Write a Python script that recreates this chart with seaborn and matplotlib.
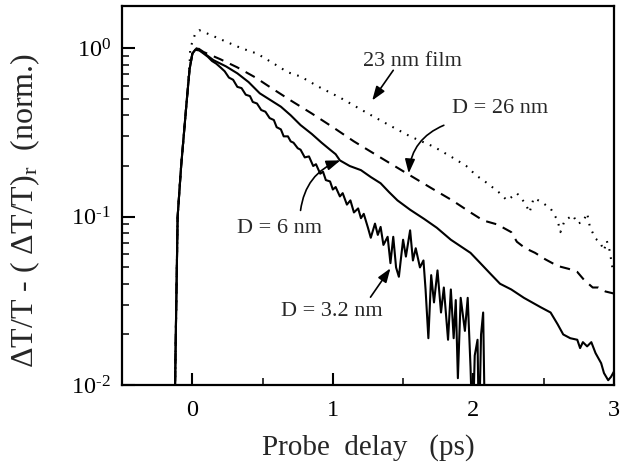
import numpy as np
import pandas as pd
import matplotlib
matplotlib.use("Agg")
import matplotlib.pyplot as plt
from matplotlib.ticker import MultipleLocator, LogLocator, NullFormatter, FuncFormatter
import seaborn as sns

# ---------------- data ----------------
film_x = [-0.13, -0.123, -0.118, -0.105, -0.08, -0.04, -0.02, -0.015, 0.02, 0.05, 0.08, 0.15, 0.25,
          0.35, 0.46, 0.57, 0.68, 0.77, 0.90, 1.05, 1.25, 1.40, 1.55, 1.72, 1.85, 1.95, 2.02,
          2.10, 2.18, 2.24, 2.31, 2.37, 2.40, 2.43, 2.48, 2.55, 2.60, 2.62, 2.65, 2.71, 2.74,
          2.78, 2.81, 2.83, 2.87, 2.90, 2.93, 2.95, 2.97, 2.99, 3.00]
film_y = [0.004, 0.01, 0.02, 0.1, 0.2, 0.49, 0.8, 1.0, 1.22, 1.28, 1.25, 1.18, 1.085,
          1.0, 0.93, 0.82, 0.72, 0.68, 0.59, 0.51, 0.41, 0.35, 0.30, 0.26, 0.225, 0.20, 0.176,
          0.158, 0.14, 0.125, 0.138, 0.12, 0.106, 0.129, 0.123, 0.112, 0.095, 0.081, 0.095, 0.102, 0.091,
          0.093, 0.105, 0.087, 0.074, 0.071, 0.063, 0.072, 0.063, 0.05, 0.047]

d26_x = [-0.13, -0.123, -0.118, -0.105, -0.08, -0.04, -0.02, 0.0, 0.04, 0.08, 0.20, 0.32, 0.45,
         0.55, 0.70, 0.85, 1.00, 1.15, 1.30, 1.53, 1.70, 1.85, 1.98, 2.07, 2.17, 2.27, 2.31,
         2.37, 2.44, 2.51, 2.60, 2.68, 2.74, 2.79, 2.85, 2.89, 2.94, 3.00]
d26_y = [0.004, 0.01, 0.02, 0.1, 0.2, 0.49, 0.75, 0.93, 1.0, 0.95, 0.86, 0.77, 0.67,
         0.59, 0.49, 0.41, 0.34, 0.28, 0.235, 0.18, 0.148, 0.125, 0.106, 0.095, 0.090, 0.081, 0.071,
         0.065, 0.061, 0.056, 0.051, 0.049, 0.047, 0.042, 0.038, 0.038, 0.036, 0.035]

d6_x = [-0.13, -0.123, -0.118, -0.105, -0.08, -0.04, -0.02, 0.0, 0.03, 0.08, 0.15, 0.24, 0.32,
        0.40, 0.48, 0.56, 0.63, 0.70, 0.77, 0.85, 0.92, 0.98, 1.02, 1.05, 1.12, 1.20, 1.27,
        1.34, 1.40, 1.46, 1.55, 1.65, 1.74, 1.84, 1.98, 2.05, 2.12, 2.19, 2.27, 2.36, 2.48,
        2.55, 2.60, 2.64, 2.69, 2.74, 2.76, 2.78, 2.81, 2.84, 2.87, 2.91, 2.93, 2.96, 2.98, 3.00]
d6_y = [0.004, 0.01, 0.02, 0.1, 0.2, 0.49, 0.75, 0.93, 1.0, 0.94, 0.85, 0.78, 0.71,
        0.63, 0.54, 0.49, 0.45, 0.40, 0.35, 0.31, 0.275, 0.25, 0.235, 0.216, 0.20, 0.189, 0.172,
        0.158, 0.14, 0.125, 0.11, 0.097, 0.086, 0.073, 0.061, 0.053, 0.046, 0.040, 0.037, 0.033, 0.029,
        0.027, 0.023, 0.020, 0.019, 0.0186, 0.0166, 0.018, 0.017, 0.018, 0.0155, 0.0135, 0.0118, 0.0107, 0.0112, 0.012]

d32_x = [-0.13, -0.123, -0.118, -0.105, -0.08, -0.04, -0.02, 0.0, 0.02, 0.05, 0.08, 0.11, 0.14,
         0.17, 0.20, 0.23, 0.26, 0.29, 0.32, 0.35, 0.38, 0.41, 0.43, 0.46, 0.49, 0.52, 0.55,
         0.58, 0.60, 0.63, 0.65, 0.68, 0.70, 0.72, 0.75, 0.77, 0.80, 0.83, 0.86, 0.88, 0.91,
         0.93, 0.95, 0.98, 1.00, 1.02, 1.05, 1.07, 1.10, 1.125, 1.15, 1.18, 1.20, 1.22, 1.25,
         1.27, 1.30, 1.32, 1.34, 1.36, 1.39, 1.41, 1.43, 1.45, 1.47, 1.50, 1.52, 1.55, 1.57,
         1.59, 1.62, 1.645, 1.66, 1.68, 1.70, 1.72, 1.745, 1.77, 1.79, 1.82, 1.84, 1.86, 1.875,
         1.89, 1.91, 1.94, 1.96, 1.98, 1.995, 2.01, 2.03, 2.04, 2.055, 2.07, 2.085]
d32_y = [0.004, 0.01, 0.02, 0.1, 0.2, 0.49, 0.75, 0.93, 0.98, 0.97, 0.93, 0.89, 0.84,
         0.81, 0.77, 0.73, 0.67, 0.65, 0.59, 0.58, 0.53, 0.52, 0.48, 0.47, 0.43, 0.42, 0.385,
         0.375, 0.34, 0.33, 0.30, 0.30, 0.28, 0.275, 0.255, 0.25, 0.225, 0.228, 0.20, 0.205, 0.18,
         0.185, 0.165, 0.162, 0.145, 0.15, 0.132, 0.138, 0.118, 0.125, 0.106, 0.112, 0.098, 0.104, 0.086,
         0.075, 0.091, 0.078, 0.087, 0.068, 0.076, 0.053, 0.076, 0.05, 0.044, 0.073, 0.058, 0.083, 0.055,
         0.065, 0.05, 0.055, 0.037, 0.019, 0.045, 0.031, 0.048, 0.027, 0.038, 0.0186, 0.037, 0.019, 0.032,
         0.011, 0.033, 0.021, 0.033, 0.0128, 0.005, 0.015, 0.0186, 0.005, 0.02, 0.027, 0.004]

# ---------------- style ----------------
sns.set_theme(style="ticks")
plt.rcParams["font.family"] = ["Liberation Serif", "DejaVu Serif"]
plt.rcParams["mathtext.fontset"] = "custom"
plt.rcParams["mathtext.rm"] = "Liberation Serif"
plt.rcParams["mathtext.it"] = "Liberation Serif:italic"
plt.rcParams["axes.unicode_minus"] = False
plt.rcParams["axes.linewidth"] = 1.6

fig = plt.figure(figsize=(6.2, 4.68), dpi=100)
ax = fig.add_axes([0.197, 0.177, 0.793, 0.810])

lw = 1.5
sns.lineplot(x=film_x, y=film_y, ax=ax, color="black", lw=lw, sort=False, estimator=None,
             linestyle=(0, (0.8, 3.2)))
sns.lineplot(x=d26_x, y=d26_y, ax=ax, color="black", lw=lw, sort=False, estimator=None,
             linestyle=(0, (5, 3.5)))
sns.lineplot(x=d6_x, y=d6_y, ax=ax, color="black", lw=lw, sort=False, estimator=None)
sns.lineplot(x=d32_x, y=d32_y, ax=ax, color="black", lw=lw, sort=False, estimator=None)

ax.set_yscale("log")
ax.set_xlim(-0.5, 3.0)
ax.set_ylim(0.01, 1.78)
ax.xaxis.set_major_locator(MultipleLocator(1))
ax.xaxis.set_minor_locator(MultipleLocator(0.5))
ax.yaxis.set_major_locator(LogLocator(base=10, numticks=10))
ax.yaxis.set_minor_locator(LogLocator(base=10, subs=np.arange(2, 10), numticks=20))
ax.yaxis.set_minor_formatter(NullFormatter())


def log_fmt(v, pos):
    e = int(round(np.log10(v)))
    if e < 0:
        return "10$^{\\text{-}%d}$" % (-e)
    return "10$^{%d}$" % e


ax.yaxis.set_major_formatter(FuncFormatter(log_fmt))
ax.tick_params(which="major", direction="in", length=9, width=1.5, top=False, right=False,
               labelsize=17.5, colors="black")
ax.tick_params(which="minor", direction="in", length=5, width=1.3, top=False, right=False)
ax.tick_params(axis="x", which="major", pad=11)
ax.tick_params(axis="y", which="major", pad=8)
for s in ax.spines.values():
    s.set_visible(True)
    s.set_color("black")

ax.set_xlabel("Probe  delay   (ps)", fontsize=21, labelpad=9)
ax.set_ylabel("ΔT/T - ( ΔT/T)$_\\mathrm{r}$  (norm.)", fontsize=23)
ax.yaxis.set_label_coords(-0.163, 0.46)

# ---------------- annotations ----------------
tfs = 16
ax.text(1.567, 0.84, "23 nm film", fontsize=tfs, ha="center", va="center")
ax.text(2.19, 0.44, "D = 26 nm", fontsize=tfs, ha="center", va="center")
ax.text(0.62, 0.0855, "D = 6 nm", fontsize=tfs, ha="center", va="center")
ax.text(0.99, 0.0275, "D = 3.2 nm", fontsize=tfs, ha="center", va="center")

aprops = dict(arrowstyle="-|>,head_length=0.7,head_width=0.25", color="black", lw=1.2,
              shrinkA=0, shrinkB=0, mutation_scale=12)
ax.annotate("", xy=(1.28, 0.49), xytext=(1.43, 0.74), arrowprops=aprops)
ax.annotate("", xy=(1.54, 0.181), xytext=(1.79, 0.349),
            arrowprops=dict(aprops, connectionstyle="arc3,rad=0.3"))
ax.annotate("", xy=(1.054, 0.216), xytext=(0.77, 0.109),
            arrowprops=dict(aprops, connectionstyle="arc3,rad=-0.3"))
ax.annotate("", xy=(1.41, 0.0494), xytext=(1.268, 0.0333), arrowprops=aprops)

fig.savefig("out.png", dpi=100)
